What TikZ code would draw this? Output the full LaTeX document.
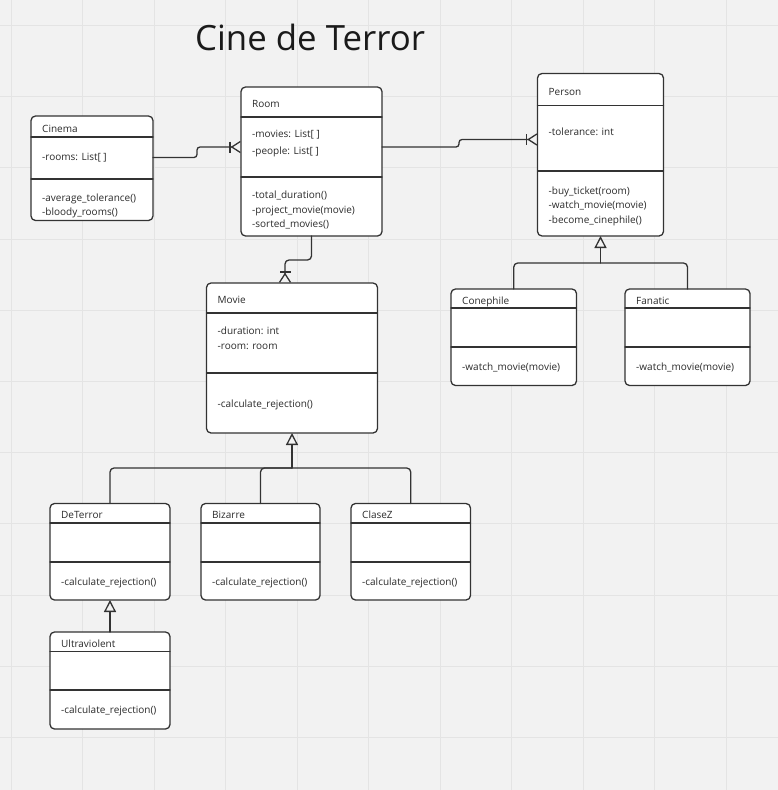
\documentclass[tikz,border=0pt]{standalone}
\usepackage{fontspec}
\setmainfont{Open Sans}
\usetikzlibrary{arrows.meta, positioning}

\definecolor{bgc}{HTML}{F2F2F2}
\definecolor{gridc}{HTML}{E4E4E4}
\definecolor{linec}{HTML}{333333}
\definecolor{txtc}{HTML}{2B2B2B}
\definecolor{titlec}{HTML}{1A1A1A}

\tikzset{
  cls/.style={draw=linec, line width=1.3pt, fill=white, rounded corners=4.5pt,
    anchor=north west, inner sep=0pt, outer sep=0pt},
  sepline/.style={draw=linec, line width=1.3pt},
  lbl/.style={anchor=base west, inner sep=0pt, text=txtc, align=left,
    font=\fontsize{10}{14.6}\selectfont},
  link/.style={draw=linec, line width=1.3pt},
  crow/.style={-{Bar[width=11pt]Straight Barb[reversed, length=8.5pt, width=11pt]}},
  inherit/.style={-{Triangle[open, length=12pt, width=12pt]}},
}

% class box: name, top-left, width, height, 1st rule, 2nd rule, class name
\newcommand\umlclass[7]{%
  \node[cls, minimum width=#3pt, minimum height=#4pt] (#1) at (#2) {};
  \draw[sepline] ([yshift=-#5pt]#1.north west) -- ([yshift=-#5pt]#1.north east);
  \draw[sepline] ([yshift=-#6pt]#1.north west) -- ([yshift=-#6pt]#1.north east);
  \node[lbl] (#1-name) at ([shift={(11,#5/2+5.5)}]#1.north west) {#7};
}

\begin{document}
\begin{tikzpicture}[x=1pt, y=-1pt, line cap=round, line join=round]
  % background and grid
  \fill[bgc] (0,0) rectangle (778,790);
  \useasboundingbox (0,0) rectangle (778,790);
  \foreach \gx in {11,82.5,...,778} \draw[gridc, line width=1pt] (\gx,0) -- (\gx,790);
  \foreach \gy in {25.5,96.7,...,790} \draw[gridc, line width=1pt] (0,\gy) -- (778,\gy);

  \node[font=\fontsize{34.8}{40}\selectfont, text=titlec, anchor=base west, inner sep=0pt]
    (title) at (195,50) {Cine de Terror};

  % classes (text nodes sit on the baseline of their last line)
  \umlclass{cinema}{31,116}{122}{104.5}{21}{63}{Cinema}
  \node[lbl] (cinema-attr) at ([shift={(11,44.3)}]cinema.north west) {-rooms: List[ ]};
  \node[lbl] (cinema-ops) at ([shift={(11,99.9)}]cinema.north west)
    {-average\_tolerance()\\-bloody\_rooms()};

  \umlclass{room}{241,87}{141}{149}{30}{90}{Room}
  \node[lbl] (room-attr) at ([shift={(11,67)}]room.north west)
    {-movies: List[ ]\\[1.5pt]-people: List[ ]};
  \node[lbl] (room-ops) at ([shift={(11,140.8)}]room.north west)
    {-total\_duration()\\-project\_movie(movie)\\-sorted\_movies()};

  \umlclass{person}{537.5,73.5}{126}{162.5}{32}{97.5}{Person}
  \node[lbl] (person-attr) at ([shift={(11,61.8)}]person.north west) {-tolerance: int};
  \node[lbl] (person-ops) at ([shift={(11,150)}]person.north west)
    {-buy\_ticket(room)\\-watch\_movie(movie)\\-become\_cinephile()};

  \umlclass{movie}{206.5,283}{171}{150}{30}{90}{Movie}
  \node[lbl] (movie-attr) at ([shift={(11,66.2)}]movie.north west)
    {-duration: int\\-room: room};
  \node[lbl] (movie-ops) at ([shift={(11,124.6)}]movie.north west) {-calculate\_rejection()};

  \umlclass{conephile}{451,289}{125.5}{96.5}{19}{58}{Conephile}
  \node[lbl] (conephile-ops) at ([shift={(11,81.3)}]conephile.north west) {-watch\_movie(movie)};

  \umlclass{fanatic}{625,289}{125}{96.5}{19}{58}{Fanatic}
  \node[lbl] (fanatic-ops) at ([shift={(11,81.3)}]fanatic.north west) {-watch\_movie(movie)};

  \umlclass{deterror}{50,503.5}{120}{96.5}{19.5}{58.5}{DeTerror}
  \node[lbl] (deterror-ops) at ([shift={(11,81.8)}]deterror.north west) {-calculate\_rejection()};

  \umlclass{bizarre}{201,503.5}{119}{96.5}{19.5}{58.5}{Bizarre}
  \node[lbl] (bizarre-ops) at ([shift={(11,81.8)}]bizarre.north west) {-calculate\_rejection()};

  \umlclass{clasez}{351,503.5}{119.5}{96.5}{19.5}{58.5}{ClaseZ}
  \node[lbl] (clasez-ops) at ([shift={(11,81.8)}]clasez.north west) {-calculate\_rejection()};

  \umlclass{ultraviolent}{50,632}{120}{97}{19.5}{58}{Ultraviolent}
  \node[lbl] (ultraviolent-ops) at ([shift={(11,81.6)}]ultraviolent.north west) {-calculate\_rejection()};

  % associations
  \draw[link, crow, rounded corners=3pt] ([yshift=-41.5pt]cinema.north east) -- ++(44,0)
    |- ([yshift=-60pt]room.north west);
  \draw[link, crow, rounded corners=3pt] ([yshift=-60pt]room.north east) -- ++(77,0)
    |- ([yshift=-66pt]person.north west);
  \draw[link, crow, rounded corners=4pt] (room.south) -- ++(0,24) -| ([xshift=-7pt]movie.north);

  % inheritance
  \coordinate (pjoin) at ([yshift=-27pt]person.south);
  \draw[link, inherit] (pjoin) -- (person.south);
  \draw[link, rounded corners=4pt] (conephile.north) |- (pjoin) -| (fanatic.north);

  \coordinate (mjoin) at ([yshift=-35pt]movie.south);
  \draw[link, inherit] (mjoin) -- (movie.south);
  \draw[link, rounded corners=4pt] (deterror.north) |- (mjoin) -| (clasez.north);
  \draw[link, rounded corners=4pt] (bizarre.north) |- (mjoin);

  \draw[link, inherit] (ultraviolent.north) -- (deterror.south);
\end{tikzpicture}
\end{document}
